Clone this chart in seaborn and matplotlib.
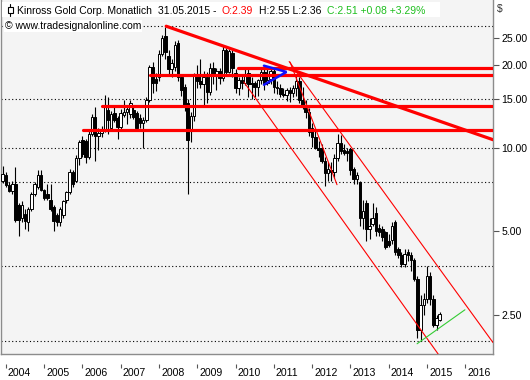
import numpy as np
import pandas as pd
import matplotlib
matplotlib.use("Agg")
import matplotlib.pyplot as plt
import matplotlib.transforms as mtransforms
from matplotlib.patches import Rectangle
from matplotlib.lines import Line2D
from matplotlib.ticker import NullLocator
import seaborn as sns

# ---------------- data (monthly candles, Kinross Gold, USD) ----------------
months = pd.period_range("2003-12", "2015-05", freq="M")
opens = [7.6, 8.0, 7.35, 7.0, 7.4, 6.2, 5.6, 5.75, 5.4, 6.0, 6.8, 7.2,
         8.0, 7.05, 6.8, 6.5, 6.1, 5.7, 5.4, 5.7, 6.5, 6.9, 8.2, 7.6,
         9.2, 10.7, 10.6, 9.3, 11.2, 12.9, 11.0, 11.3, 11.6, 13.7, 11.8, 13.4,
         12.8, 11.9, 13.1, 13.5, 13.2, 13.7, 13.4, 12.8, 12.3, 12.6, 14.9, 19.6,
         17.8, 18.0, 21.9, 25.3, 21.5, 19.2, 19.6, 24.0, 18.0, 16.6, 14.5, 11.5,
         13.0, 18.4, 17.5, 17.0, 18.1, 15.9, 19.4, 18.2, 18.9, 17.9, 22.6, 18.8,
         22.0, 18.7, 16.5, 17.6, 17.1, 18.6, 17.0, 17.1, 16.6, 17.6, 18.8, 17.2,
         17.8, 19.0, 16.6, 16.5, 15.7, 15.5, 16.2, 15.8, 16.4, 17.4, 14.9, 14.3,
         13.5, 11.8, 10.9, 10.0, 10.0, 9.0, 8.1, 8.3, 8.2, 9.2, 10.4, 9.8,
         9.7, 9.9, 8.4, 7.7, 7.5, 5.6, 6.3, 5.1, 5.3, 5.8, 5.15, 5.1,
         4.95, 4.6, 4.66, 5.4, 4.3, 4.1, 3.8, 4.2, 4.1, 3.95, 3.35, 2.2,
         2.7, 2.85, 3.45, 2.85, 2.3, 2.39]
highs = [8.6, 8.2, 7.5, 7.6, 8.5, 6.3, 6.4, 6.0, 6.1, 6.9, 7.5, 8.3,
         8.3, 7.1, 7.4, 7.4, 6.2, 5.8, 6.1, 6.5, 7.0, 8.4, 8.3, 9.4,
         10.7, 11.0, 10.8, 11.5, 13.2, 14.0, 11.8, 12.0, 15.5, 15.3, 13.6, 14.2,
         13.0, 13.8, 14.9, 14.1, 14.9, 14.3, 13.6, 13.3, 12.9, 15.3, 20.0, 20.5,
         18.6, 22.5, 25.5, 27.4, 22.5, 21.0, 24.3, 24.6, 18.5, 17.0, 15.0, 13.5,
         18.6, 20.0, 21.0, 19.0, 18.8, 20.2, 20.5, 19.5, 19.5, 23.3, 23.0, 22.7,
         22.5, 19.2, 18.0, 18.5, 19.2, 19.6, 18.0, 17.5, 17.8, 19.2, 19.5, 19.4,
         19.6, 19.2, 17.5, 17.0, 16.4, 16.5, 16.6, 16.8, 18.4, 18.0, 16.6, 14.9,
         13.9, 12.3, 11.5, 10.6, 10.3, 9.3, 8.9, 8.9, 9.5, 11.2, 11.1, 10.3,
         10.0, 10.0, 8.5, 8.2, 7.6, 6.5, 6.5, 5.6, 6.3, 6.1, 5.3, 5.2,
         5.0, 4.9, 5.4, 5.5, 4.4, 4.2, 4.3, 4.3, 4.2, 4.0, 3.45, 2.95,
         3.0, 3.75, 3.55, 2.95, 2.5, 2.55]
lows = [7.45, 7.2, 6.9, 6.8, 5.4, 4.8, 5.4, 5.1, 5.0, 5.9, 6.7, 7.1,
        7.0, 6.5, 6.5, 5.9, 5.0, 5.2, 5.2, 5.6, 6.3, 6.8, 7.2, 7.5,
        8.7, 9.3, 8.8, 9.1, 11.0, 9.0, 9.8, 10.9, 11.4, 11.2, 11.5, 12.4,
        10.8, 11.7, 12.9, 12.2, 12.8, 12.7, 11.6, 11.8, 10.0, 12.4, 14.7, 15.8,
        16.0, 17.5, 21.5, 21.0, 18.5, 18.0, 19.0, 17.5, 15.4, 13.6, 6.8, 10.5,
        12.5, 16.5, 16.5, 14.0, 14.5, 15.5, 17.0, 16.2, 17.0, 17.5, 18.5, 18.6,
        18.0, 15.8, 15.5, 16.3, 16.8, 15.3, 15.0, 15.2, 15.4, 17.0, 16.2, 16.8,
        17.0, 15.8, 15.6, 15.3, 15.2, 14.8, 14.7, 15.2, 15.4, 14.5, 13.8, 12.8,
        11.0, 10.1, 9.9, 9.3, 8.8, 7.3, 7.6, 7.6, 7.8, 9.0, 9.5, 9.4,
        9.0, 8.0, 7.4, 7.4, 5.2, 5.1, 4.6, 4.7, 5.2, 4.8, 4.8, 4.6,
        4.3, 4.4, 4.5, 4.1, 4.0, 3.7, 3.7, 3.9, 3.6, 3.3, 2.05, 2.03,
        2.5, 2.75, 2.7, 2.25, 2.2, 2.36]
closes = [8.05, 7.35, 7.0, 7.4, 5.5, 5.5, 6.2, 5.45, 6.0, 6.8, 7.4, 8.0,
          7.05, 6.6, 6.6, 6.0, 5.45, 5.4, 6.0, 6.4, 6.9, 8.2, 7.4, 9.2,
          10.5, 9.5, 9.3, 11.2, 12.9, 11.0, 11.3, 11.6, 14.0, 12.6, 13.2, 12.6,
          11.9, 13.4, 13.5, 13.8, 14.5, 12.9, 11.8, 12.3, 12.6, 14.9, 19.6, 17.2,
          17.1, 21.9, 24.9, 22.1, 19.2, 20.2, 23.6, 18.0, 16.2, 14.2, 10.7, 13.0,
          18.4, 17.5, 17.0, 18.1, 15.9, 19.4, 18.2, 18.9, 17.9, 22.6, 18.8, 22.3,
          19.5, 16.4, 17.6, 17.1, 18.3, 17.0, 17.1, 16.6, 17.6, 18.8, 17.0, 17.6,
          19.0, 16.6, 16.5, 15.7, 15.5, 16.2, 15.8, 16.4, 17.4, 14.9, 14.3, 13.5,
          11.4, 10.9, 10.0, 9.8, 9.0, 8.1, 8.4, 8.2, 9.2, 10.4, 9.7, 9.6,
          9.6, 8.3, 7.7, 7.95, 5.6, 5.9, 5.1, 5.2, 5.6, 5.0, 4.95, 4.75,
          4.4, 4.45, 5.2, 4.2, 4.1, 3.8, 4.15, 4.1, 3.95, 3.35, 2.2, 2.7,
          2.85, 3.45, 2.85, 2.3, 2.42, 2.51]

# drawing aids
years = list(range(2004, 2017))
grid_levels = [27.5, 15.0, 10.0, 7.5, 3.75, 2.0]
ytick_values = [2.5, 5.0, 10.0, 15.0, 20.0, 25.0]
ytick_labels = ["2.50", "5.00", "10.00", "15.00", "20.00", "25.00"]
resist_levels = [19.5, 18.4, 14.2, 11.6]
resist_start = [73.8, 46.2, 31.1, 25.2]          # month index where each line begins
trend_x = [51.25, 153.7];  trend_y = [27.5, 10.7]  # thick falling resistance
steep_x = [90.1, 104.8];   steep_y = [20.4, 7.36]
chan_up_x = [89.8, 153.7]; chan_up_y = [20.5, 1.98]
chan_lo_x = [75.6, 136.5]; chan_lo_y = [17.3, 1.80]
green_x = [129.9, 144.9];  green_y = [1.96, 2.60]
blue_x = [81.9, 88.96, 81.9]; blue_y = [19.8, 18.8, 16.9]

# ---------------- figure ----------------
sns.set_theme(style="white")
plt.rcParams['font.family'] = ['Liberation Sans', 'DejaVu Sans']

W, H = 530, 380
fig = plt.figure(figsize=(W / 100, H / 100), dpi=100)
fig.patch.set_facecolor("white")
ax_bottom = 354
ax = fig.add_axes([1 / W, 1 - ax_bottom / H, 492 / W, ax_bottom / H])
ax.set_facecolor("#f4f4f4")
ax.set_yscale("log")

df = pd.DataFrame({"x": np.arange(len(months)), "open": opens, "high": highs,
                   "low": lows, "close": closes})
up = df["close"] >= df["open"]

# grid (dotted)
for g in grid_levels:
    ax.axhline(g, color="black", lw=0.8, ls=(0, (1, 2.2)), zorder=1)

# candles
ax.vlines(df["x"], df["low"], df["high"], color="black", lw=0.8, zorder=3)
body_lo = np.minimum(df["open"], df["close"])
body_h = np.abs(df["close"] - df["open"])
ax.bar(df["x"][up], body_h[up], bottom=body_lo[up], width=0.8,
       color="white", edgecolor="black", linewidth=0.7, zorder=4)
ax.bar(df["x"][~up], body_h[~up], bottom=body_lo[~up], width=0.8,
       color="black", edgecolor="black", linewidth=0.7, zorder=4)

# annotation lines
xmax = 153.7
for lvl, x0 in zip(resist_levels, resist_start):
    sns.lineplot(x=[x0, xmax], y=[lvl, lvl], ax=ax, color="#ff0000", lw=2.3,
                 zorder=5, legend=False)
sns.lineplot(x=trend_x, y=trend_y, ax=ax, color="#ff0000", lw=2.3, zorder=5,
             legend=False)
for xs, ys in [(steep_x, steep_y), (chan_up_x, chan_up_y), (chan_lo_x, chan_lo_y)]:
    sns.lineplot(x=xs, y=ys, ax=ax, color="#ff0000", lw=0.8, zorder=5,
                 legend=False)
sns.lineplot(x=green_x, y=green_y, ax=ax, color="#33cc33", lw=0.8, zorder=5,
             legend=False)
ax.plot(blue_x, blue_y, color="#1010ff", lw=1.8, zorder=6, solid_joinstyle="miter")

ax.set_xlim(-0.533, xmax)
ax.set_ylim(1.80, 34.2)
ax.set_xlabel("")
ax.set_ylabel("")

# spines
ax.spines["top"].set_visible(False)
for s in ["left", "right", "bottom"]:
    ax.spines[s].set_color("#8c8c8c")
    ax.spines[s].set_linewidth(1.0)

# y axis on the right
ax.yaxis.tick_right()
ax.yaxis.set_minor_locator(NullLocator())
ax.set_yticks(ytick_values)
ax.set_yticklabels(ytick_labels)
ax.tick_params(axis="y", which="major", direction="out", length=4, width=0.8,
               color="#555555", pad=2, labelsize=7.6, labelcolor="black",
               right=True, left=False)

# x axis: years with small ticks, labels to the right of the tick
year_pos = [(pd.Period(f"{y}-01", freq="M") - months[0]).n for y in years]
ax.set_xticks(year_pos)
ax.set_xticklabels([str(y) for y in years])
ax.xaxis.set_minor_locator(NullLocator())
ax.tick_params(axis="x", which="major", length=0, pad=10, labelsize=7.6,
               labelcolor="black")
offset = mtransforms.ScaledTranslation(1.5 / 72, 0, fig.dpi_scale_trans)
for lab in ax.get_xticklabels():
    lab.set_horizontalalignment("left")
    lab.set_transform(lab.get_transform() + offset)
ax.vlines(year_pos, -10 / ax_bottom, -14 / ax_bottom, transform=ax.get_xaxis_transform(),
          color="#555555", lw=0.8, clip_on=False)
ax.grid(False)

# ---------------- header ----------------
def fx(px):
    return px / W


def fy(py):
    return 1 - py / H


fig.add_artist(Rectangle((fx(2), fy(17)), fx(438), 15 / H, transform=fig.transFigure,
                         facecolor="white", edgecolor="none", zorder=10))
# candle icon
fig.add_artist(Line2D([fx(10), fx(10)], [fy(4), fy(16)], transform=fig.transFigure,
                      color="black", lw=0.8, zorder=11))
fig.add_artist(Rectangle((fx(7.5), fy(13)), fx(5), 6 / H, transform=fig.transFigure,
                         facecolor="white", edgecolor="black", lw=0.8, zorder=12))

fs = 7.5
hdr = [(17, "Kinross Gold Corp. Monatlich", "black"),
       (158, "31.05.2015 -", "black"),
       (222, "O:2.39", "#ff0000"),
       (259, "H:2.55 L:2.36", "black"),
       (327, "C:2.51 +0.08 +3.29%", "#1fbf1f")]
for xp, s, c in hdr:
    fig.text(fx(xp), fy(10.5), s, color=c, fontsize=fs, ha="left", va="center",
             zorder=13)
fig.text(fx(5), fy(26), "\u00a9 www.tradesignalonline.com", color="black", fontsize=fs,
         ha="left", va="center", zorder=13,
         bbox=dict(facecolor="white", edgecolor="none", pad=0.6))
fig.text(fx(497), fy(9), "$", color="#333333", fontsize=fs, ha="left", va="center")

fig.savefig("out.png", dpi=100, facecolor="white")
